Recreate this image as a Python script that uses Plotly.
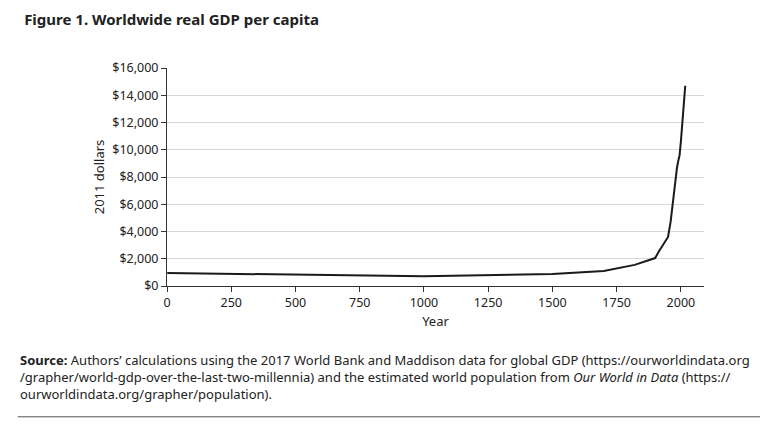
import plotly.graph_objects as go

years = [1, 1000, 1500, 1600, 1700, 1820, 1870, 1900, 1913, 1940, 1950, 1960,
         1970, 1975, 1980, 1985, 1990, 1995, 2000, 2005, 2008, 2009, 2010, 2015, 2017]
gdp = [950, 720, 880, 1000, 1100, 1550, 1850, 2050, 2500, 3300, 3600, 4700,
       6300, 7500, 8000, 8700, 9200, 9600, 10600, 11800, 12800, 12600, 13000, 14200, 14700]

x_ticks = [0, 250, 500, 750, 1000, 1250, 1500, 1750, 2000]
y_ticks = list(range(0, 16001, 2000))

FONT = "Source Sans Pro, Noto Sans, sans-serif"

fig = go.Figure()
fig.add_trace(go.Scatter(x=years, y=gdp, mode="lines",
                         line=dict(color="#1a1a1a", width=2), showlegend=False))

fig.update_layout(
    width=768, height=426,
    margin=dict(l=159, r=72, t=60, b=148),
    paper_bgcolor="white", plot_bgcolor="white",
    font=dict(family=FONT, size=12.5, color="#222"),
    title=dict(text="<b>Figure 1. Worldwide real GDP per capita</b>",
               x=0.021, xanchor="left", y=0.985, yanchor="top",
               font=dict(size=15, color="#222")),
)
fig.update_xaxes(range=[0, 2090], tickvals=x_ticks, showgrid=False, automargin=False,
                 showline=True, linecolor="#333", ticks="outside", ticklen=5,
                 tickcolor="#333", title=dict(text="Year", standoff=6, font=dict(size=13)))
fig.update_yaxes(range=[0, 16000], tickvals=y_ticks, automargin=False,
                 ticktext=[f"${v:,}" for v in y_ticks],
                 showgrid=True, gridcolor="#d9d9d9", zeroline=False,
                 showline=True, linecolor="#333", ticks="outside", ticklen=5,
                 tickcolor="#333", title=dict(text="2011 dollars", standoff=4, font=dict(size=13)))

fig.add_annotation(
    xref="paper", yref="paper", x=-0.278, y=-0.29, xanchor="left", yanchor="top",
    align="left", showarrow=False, font=dict(size=13, color="#222"),
    text=("<b>Source:</b> Authors’ calculations using the 2017 World Bank and Maddison data for global GDP (https://ourworldindata.org"
          "<br>/grapher/world-gdp-over-the-last-two-millennia) and the estimated world population from <i>Our World in Data</i> (https://"
          "<br>ourworldindata.org/grapher/population)."))
fig.add_shape(type="line", xref="paper", yref="paper", x0=-0.278, x1=1.115,
              y0=-0.6, y1=-0.6, line=dict(color="#555", width=1))

fig.write_html("out.html")
